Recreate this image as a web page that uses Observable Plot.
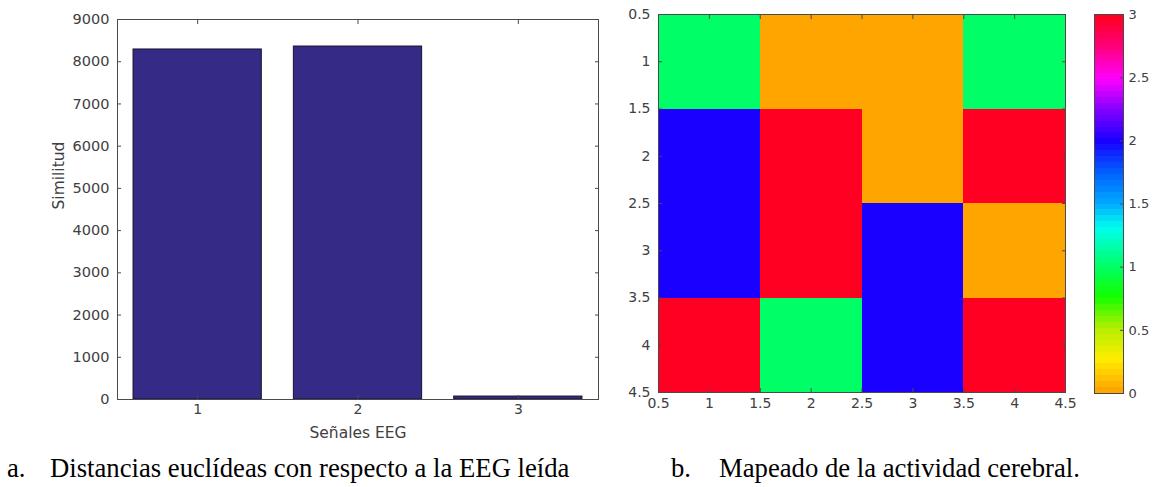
<!DOCTYPE html>
<html><head><meta charset="utf-8">
<script src="https://cdn.jsdelivr.net/npm/d3@7"></script>
<script src="https://cdn.jsdelivr.net/npm/@observablehq/plot@0.6"></script>
<style>
body{margin:0;background:#fff;width:1153px;height:487px;position:relative;overflow:hidden;}
.pane{position:absolute;top:0;}
.cap{position:absolute;font-family:"Liberation Serif","Times New Roman",serif;font-size:26.7px;line-height:32px;color:#000;white-space:pre;}
</style></head><body>
<div id="a" class="pane" style="left:0px"></div>
<div id="b" class="pane" style="left:600px"></div>
<div id="c" class="pane" style="left:1080px"></div>
<div class="cap" style="left:7px;top:452px">a.</div>
<div class="cap" style="left:50px;top:452px">Distancias euclídeas con respecto a la EEG leída</div>
<div class="cap" style="left:671px;top:452px">b.</div>
<div class="cap" style="left:719px;top:452px">Mapeado de la actividad cerebral.</div>
<script>
// ---- data ----
const signals = [1, 2, 3];
const similarity = [8290, 8360, 70];
const yTicks = [0, 1000, 2000, 3000, 4000, 5000, 6000, 7000, 8000, 9000];
const yLabel = "Similitud";
const xLabel = "Señales EEG";

const gridCols = [1, 2, 3, 4];
const gridRows = [1, 2, 3, 4];
const activity = [
  [1, 0, 0, 1],
  [2, 3, 0, 3],
  [2, 3, 2, 0],
  [3, 1, 2, 3]
];
const mapTicks = [0.5, 1, 1.5, 2, 2.5, 3, 3.5, 4, 4.5];
const cbarTicks = [0, 0.5, 1, 1.5, 2, 2.5, 3];
const cmapStops  = [0, 0.25, 0.5, 0.75, 1, 1.3, 1.5, 1.75, 2, 2.25, 2.5, 2.75, 3];
const cmapColors = ["#ffa500", "#ffee00", "#b4ee00", "#11ff00", "#00ff66", "#00ffee", "#00aaff", "#0060ff", "#1a00ff", "#8000ff", "#ff00ff", "#ff0080", "#ff0022"];
const cbarLevels = 64;

// ---- shared style ----
const txt = "#404040";
const axc = "#4a4a4a";
const common = {fontFamily: "'DejaVu Sans', sans-serif", fontSize: "14px", color: txt, background: "transparent", overflow: "visible"};

// ---- left: bar chart ----
const barData = signals.map((s, i) => ({s, v: similarity[i]}));
const A = Plot.plot({
  width: 620, height: 445,
  marginLeft: 117, marginRight: 22, marginTop: 19, marginBottom: 46,
  style: common,
  x: {domain: [0.5, 3.5]},
  y: {domain: [0, 9000]},
  marks: [
    Plot.rect(barData, {x1: d => d.s - 0.4, x2: d => d.s + 0.4, y1: 0, y2: "v", fill: "#352a85", stroke: "#15152a", strokeWidth: 1}),
    Plot.frame({stroke: axc}),
    Plot.axisY({anchor: "left", ticks: yTicks, tickSize: -4, tickPadding: 12, tickFormat: d => String(d), label: null, stroke: axc, fill: txt, fontSize: 14.5}),
    Plot.axisY({anchor: "right", ticks: yTicks, tickSize: -4, tickFormat: () => "", label: null, stroke: axc}),
    Plot.axisX({anchor: "bottom", ticks: signals, tickSize: -4, tickPadding: 9, tickFormat: d => String(d), label: null, stroke: axc, fill: txt}),
    Plot.axisX({anchor: "top", ticks: signals, tickSize: -4, tickFormat: () => "", label: null, stroke: axc}),
    Plot.text([yLabel], {text: d => d, frameAnchor: "left", dx: -58, rotate: -90, fill: txt, fontSize: 15.5}),
    Plot.text([xLabel], {text: d => d, frameAnchor: "bottom", dy: 38, fill: txt, fontSize: 15.5})
  ]
});
document.getElementById("a").append(A);

// ---- right: heatmap ----
const cells = gridRows.flatMap((r, i) => gridCols.map((c, j) => ({r, c, v: activity[i][j]})));
const colorScale = {type: "linear", domain: cmapStops, range: cmapColors, interpolate: "rgb"};
const B = Plot.plot({
  width: 480, height: 440,
  marginLeft: 58, marginRight: 15, marginTop: 14, marginBottom: 48,
  style: common,
  x: {domain: [0.5, 4.5]},
  y: {domain: [0.5, 4.5], reverse: true},
  color: colorScale,
  marks: [
    Plot.rect(cells, {x1: d => d.c - 0.5, x2: d => d.c + 0.5, y1: d => d.r - 0.5, y2: d => d.r + 0.5, fill: "v", shapeRendering: "crispEdges"}),
    Plot.frame({stroke: axc}),
    Plot.axisY({anchor: "left", ticks: mapTicks, tickSize: -4, tickPadding: 12, tickFormat: d => String(d), label: null, stroke: axc, fill: txt}),
    Plot.axisY({anchor: "right", ticks: mapTicks, tickSize: -4, tickFormat: () => "", label: null, stroke: axc}),
    Plot.axisX({anchor: "bottom", ticks: mapTicks, tickSize: -4, tickPadding: 10, tickFormat: d => String(d), label: null, stroke: axc, fill: txt}),
    Plot.axisX({anchor: "top", ticks: mapTicks, tickSize: -4, tickFormat: () => "", label: null, stroke: axc})
  ]
});
document.getElementById("b").append(B);

// ---- colorbar ----
const levels = d3.range(cbarLevels);
const step = 3 / cbarLevels;
const C = Plot.plot({
  width: 73, height: 440,
  marginLeft: 14, marginRight: 30, marginTop: 14, marginBottom: 47,
  style: common,
  x: {domain: [0, 1], axis: null},
  y: {domain: [0, 3]},
  color: colorScale,
  marks: [
    Plot.rect(levels, {x1: 0, x2: 1, y1: i => i * step, y2: i => (i + 1) * step, fill: i => i * 3 / (cbarLevels - 1), shapeRendering: "crispEdges"}),
    Plot.frame({stroke: axc}),
    Plot.axisY({anchor: "right", ticks: cbarTicks, tickSize: -4, tickPadding: 9, tickFormat: d => String(d), label: null, stroke: axc, fill: txt, fontSize: 13})
  ]
});
document.getElementById("c").append(C);
</script>
</body></html>
